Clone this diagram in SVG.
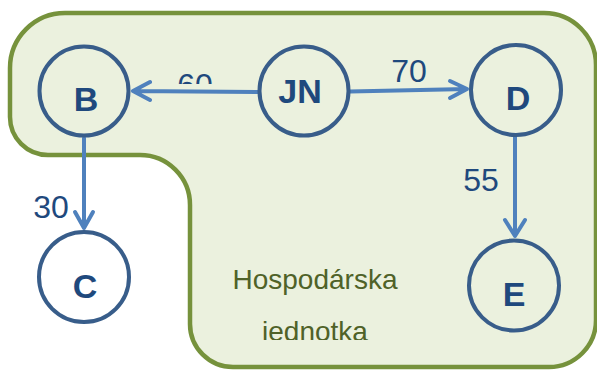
<svg xmlns="http://www.w3.org/2000/svg" width="597" height="370" viewBox="0 0 597 370">
<defs>
<style>
.node{fill:none;stroke:#385D8A;stroke-width:4}
.nl{font-family:"Liberation Sans",Arial,sans-serif;font-weight:bold;font-size:34px;fill:#1F497D;text-anchor:middle}
.el{font-family:"Liberation Sans",Arial,sans-serif;font-size:32px;fill:#1F497D;text-anchor:middle}
.edge{fill:none;stroke:#4F81BD;stroke-width:4;stroke-linecap:round;stroke-linejoin:round}
.gl{font-family:"Liberation Sans",Arial,sans-serif;font-size:28px;fill:#4F6228;text-anchor:middle}
</style>
<clipPath id="clip60"><rect x="0" y="0" width="597" height="84"/></clipPath>
<clipPath id="clipJ"><rect x="0" y="0" width="597" height="340"/></clipPath>
</defs>
<g id="unit">
<path d="M 65,13 H 544 A 52 52 0 0 1 596,65 V 320 A 47 47 0 0 1 549,367 H 233 A 43 43 0 0 1 190,324 V 205 A 50 50 0 0 0 140,155 H 48 A 38 38 0 0 1 10,117 V 68 A 55 55 0 0 1 65,13 Z" fill="#EBF1DE" stroke="#76923C" stroke-width="4.5"/>
<text class="gl" x="315" y="289">Hospodárska</text>
<text class="gl" x="315" y="341" clip-path="url(#clipJ)">jednotka</text>
</g>
<g id="connectors">
<path class="edge" d="M 258,92 L 133,91 M 150,82 L 133,91 L 150,100"/>
<path class="edge" d="M 350,91.5 L 467,89 M 450,81 L 467,89 L 450,98"/>
<path class="edge" d="M 84,138 L 84,228 M 75,212 L 84,228 L 93,212"/>
<path class="edge" d="M 515,137 L 515,236 M 505,220 L 515,236 L 525,220"/>
<text class="el" x="195" y="96" clip-path="url(#clip60)">60</text>
<text class="el" x="409" y="82">70</text>
<text class="el" x="51" y="218">30</text>
<text class="el" x="481" y="191">55</text>
</g>
<g id="B"><circle class="node" cx="84" cy="91" r="44.5"/><text class="nl" x="86" y="111">B</text></g>
<g id="JN"><circle class="node" cx="304" cy="91" r="44.5"/><text class="nl" x="300" y="103">JN</text></g>
<g id="D"><circle class="node" cx="516" cy="90" r="45"/><text class="nl" x="518" y="110">D</text></g>
<g id="C"><circle class="node" cx="84" cy="277" r="45"/><text class="nl" x="85" y="298">C</text></g>
<g id="E"><circle class="node" cx="514" cy="285.5" r="45"/><text class="nl" x="514" y="306">E</text></g>
</svg>
